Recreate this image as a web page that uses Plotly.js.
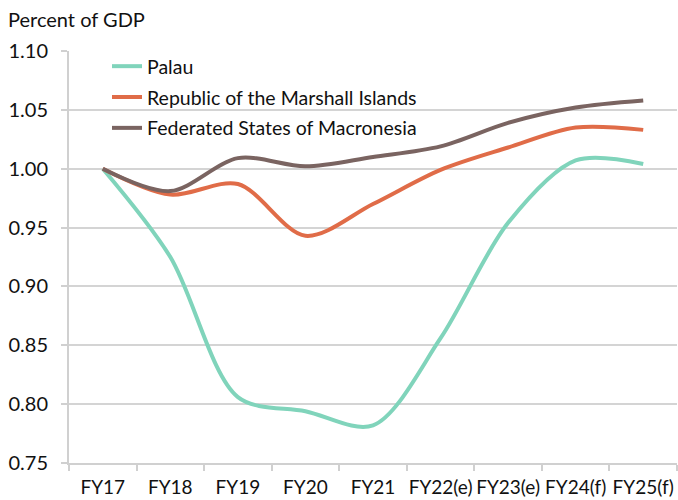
<!DOCTYPE html>
<html>
<head>
<meta charset="utf-8">
<script src="https://cdn.plot.ly/plotly-3.0.1.min.js"></script>
<style>
  html, body { margin: 0; padding: 0; background: #fff; }
  #chart { width: 678px; height: 500px; }
</style>
</head>
<body>
<div id="chart"></div>
<script>
const years = ['FY17', 'FY18', 'FY19', 'FY20', 'FY21', 'FY22(e)', 'FY23(e)', 'FY24(f)', 'FY25(f)'];
const palau = [1.000, 0.925, 0.806, 0.794, 0.782, 0.856, 0.954, 1.007, 1.004];
const marshall = [1.000, 0.978, 0.987, 0.943, 0.970, 0.999, 1.018, 1.035, 1.033];
const micronesia = [1.000, 0.981, 1.009, 1.002, 1.010, 1.019, 1.039, 1.052, 1.058];

const seriesNames = ['Palau', 'Republic of the Marshall Islands', 'Federated States of Macronesia'];
const seriesColors = ['#80d4bb', '#e06c48', '#7a6461'];

const fontFamily = 'Lato, "Open Sans", sans-serif';

const makeTrace = (name, values, color, group) => ({
  x: years,
  y: values,
  name,
  legendgroup: group,
  type: 'scatter',
  mode: 'lines',
  line: { color, width: 4, shape: 'spline', smoothing: 0.9 }
});

const traces = [
  makeTrace(seriesNames[0], palau, seriesColors[0], 'a'),
  makeTrace(seriesNames[1], marshall, seriesColors[1], 'b'),
  makeTrace(seriesNames[2], micronesia, seriesColors[2], 'c')
];

const layout = {
  width: 678,
  height: 500,
  margin: { l: 69, r: 1, t: 51, b: 37 },
  paper_bgcolor: '#ffffff',
  plot_bgcolor: '#ffffff',
  font: { family: fontFamily, size: 20, color: '#111111' },
  title: {
    text: 'Percent of GDP',
    font: { family: fontFamily, size: 20, color: '#111111' },
    x: 8 / 678, xanchor: 'left', xref: 'container',
    y: 1 - 20 / 500, yanchor: 'middle', yref: 'container'
  },
  showlegend: true,
  legend: {
    x: (107 - 69) / 608, y: 1 + 4 / 411, xanchor: 'left', yanchor: 'top',
    bgcolor: 'rgba(0,0,0,0)',
    font: { family: fontFamily, size: 19.5, color: '#111111' },
    tracegroupgap: 2.5
  },
  xaxis: {
    type: 'category',
    range: [-0.5, 8.5],
    showgrid: false,
    showline: true,
    linecolor: '#d0d0d0',
    linewidth: 2,
    ticks: 'outside',
    tickson: 'boundaries',
    ticklen: 6,
    tickcolor: '#d0d0d0',
    tickwidth: 2,
    ticklabelstandoff: 6,
    tickangle: 0,
    tickfont: { family: fontFamily, size: 19, color: '#111111' },
    zeroline: false,
    fixedrange: true
  },
  yaxis: {
    range: [0.75, 1.10],
    dtick: 0.05,
    tick0: 0.75,
    tickformat: '.2f',
    showgrid: true,
    gridcolor: '#d4d4d4',
    gridwidth: 2,
    showline: true,
    linecolor: '#d0d0d0',
    linewidth: 2,
    ticks: 'outside',
    ticklen: 6,
    tickcolor: '#d0d0d0',
    tickwidth: 2,
    ticklabelstandoff: 9,
    tickfont: { family: fontFamily, size: 20, color: '#111111' },
    zeroline: false,
    fixedrange: true
  }
};

Plotly.newPlot('chart', traces, layout, { displayModeBar: false, staticPlot: true });
</script>
</body>
</html>
